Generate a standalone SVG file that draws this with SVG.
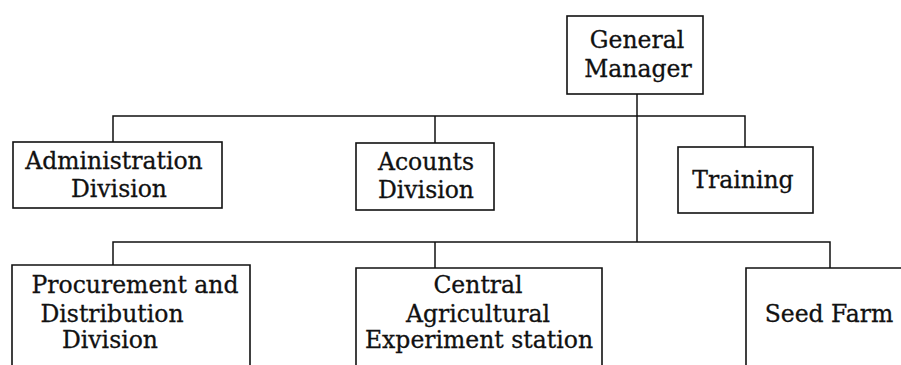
<svg xmlns="http://www.w3.org/2000/svg" width="901" height="365" viewBox="0 0 901 365">
  <style>
    .box { fill: none; stroke: #111; stroke-width: 1.6; }
    .wire { fill: none; stroke: #111; stroke-width: 1.5; }
    text { font-family: "DejaVu Serif", "Liberation Serif", serif; font-size: 23.5px; fill: #111; stroke: #111; stroke-width: 0.3; text-anchor: middle; }
  </style>
  <rect width="901" height="365" fill="#fff"/>

  <g id="connectors">
    <!-- trunk from General Manager -->
    <path class="wire" d="M637 94 V242"/>
    <!-- upper tier bus -->
    <path class="wire" d="M113 142 V116 H745 V147"/>
    <path class="wire" d="M435 116 V143"/>
    <!-- lower tier bus -->
    <path class="wire" d="M113 265 V242 H830 V268"/>
    <path class="wire" d="M435 242 V268"/>
  </g>

  <g id="general-manager">
    <rect class="box" x="567" y="16" width="136" height="78"/>
    <text x="637" y="48">General</text>
    <text x="638" y="77">Manager</text>
  </g>

  <g id="administration-division">
    <rect class="box" x="13" y="142" width="209" height="66"/>
    <text x="114" y="169">Administration</text>
    <text x="119" y="197">Division</text>
  </g>

  <g id="accounts-division">
    <rect class="box" x="356" y="143" width="138" height="67"/>
    <text x="426" y="170">Acounts</text>
    <text x="426" y="198">Division</text>
  </g>

  <g id="training">
    <rect class="box" x="678" y="147" width="135" height="66"/>
    <text x="743" y="188">Training</text>
  </g>

  <g id="procurement-division">
    <path class="box" d="M12 365 V265 H250 V365"/>
    <text x="135" y="293">Procurement and</text>
    <text x="112" y="322">Distribution</text>
    <text x="110" y="348">Division</text>
  </g>

  <g id="experiment-station">
    <path class="box" d="M356 365 V268 H602 V365"/>
    <text x="478" y="293">Central</text>
    <text x="478" y="322">Agricultural</text>
    <text x="479" y="348">Experiment station</text>
  </g>

  <g id="seed-farm">
    <path class="box" d="M746 365 V268 H901"/>
    <text x="829" y="322">Seed Farm</text>
  </g>
</svg>
